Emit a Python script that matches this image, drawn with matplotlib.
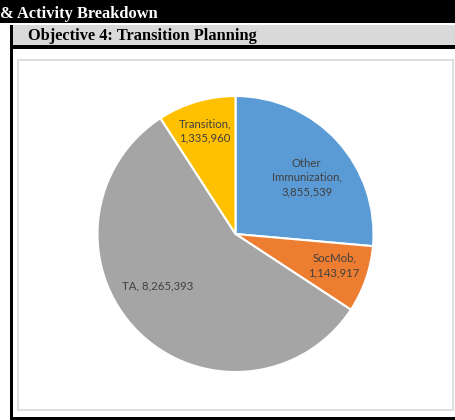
import numpy as np
import matplotlib
matplotlib.use('Agg')
import matplotlib.pyplot as plt
from matplotlib.patches import Rectangle

# data
cats = ['Other\nImmunization', 'SocMob', 'TA', 'Transition']
vals = [3855539, 1143917, 8265393, 1335960]
cols = ['#5B9BD5', '#ED7D31', '#A5A5A5', '#FFC000']
header = '& Activity Breakdown'
title = 'Objective 4: Transition Planning'

W, H = 456, 420
fig = plt.figure(figsize=(W / 100, H / 100), dpi=100)

# page frame drawn in pixel coords
bg = fig.add_axes([0, 0, 1, 1])
bg.set_xlim(0, W)
bg.set_ylim(H, 0)
bg.axis('off')
bg.add_patch(Rectangle((0, 0), W, 22.5, color='black', lw=0))
bg.text(0, 18, header, color='white', fontsize=11.8, fontweight='bold',
        family='Liberation Serif', va='baseline', ha='left')
bg.add_patch(Rectangle((13, 25), W - 13, 20, color='#D9D9D9', lw=0))
bg.text(28, 40, title, color='black', fontsize=11.8, fontweight='bold',
        family='Liberation Serif', va='baseline', ha='left')
bg.add_patch(Rectangle((10, 25), 3.5, H - 25, color='black', lw=0))
bg.add_patch(Rectangle((10, 45), W - 10, 3.5, color='black', lw=0))
bg.add_patch(Rectangle((10, 417), W - 10, 3, color='black', lw=0))
bg.add_patch(Rectangle((18.5, 59.5), 434.5, 350.5, fill=False,
                       edgecolor='#D9D9D9', lw=1.2))

# pie
cx, cy, r = 235.5, 234, 138
ax = fig.add_axes([(cx - r) / W, (H - cy - r) / H, 2 * r / W, 2 * r / H])
wedges, _ = ax.pie(vals, colors=cols, startangle=90, counterclock=False,
                   wedgeprops=dict(edgecolor='white', linewidth=1.5))
ax.set_xlim(-1, 1)
ax.set_ylim(-1, 1)
ax.set_aspect('auto')

# label placement: (radius fraction, angle offset in degrees)
place = [(0.66, -4), (0.75, 1.5), (0.68, -11), (0.78, 0)]
for w, c, v, (rf, off) in zip(wedges, cats, vals, place):
    th = np.deg2rad((w.theta1 + w.theta2) / 2 + off)
    sep = '\n' if c != 'TA' else ' '
    ax.text(rf * np.cos(th), rf * np.sin(th), f'{c},{sep}{v:,}',
            ha='center', va='center', fontsize=8.2, color='#404040',
            family='Lato', linespacing=1.35)

fig.savefig('out.png', dpi=100)
